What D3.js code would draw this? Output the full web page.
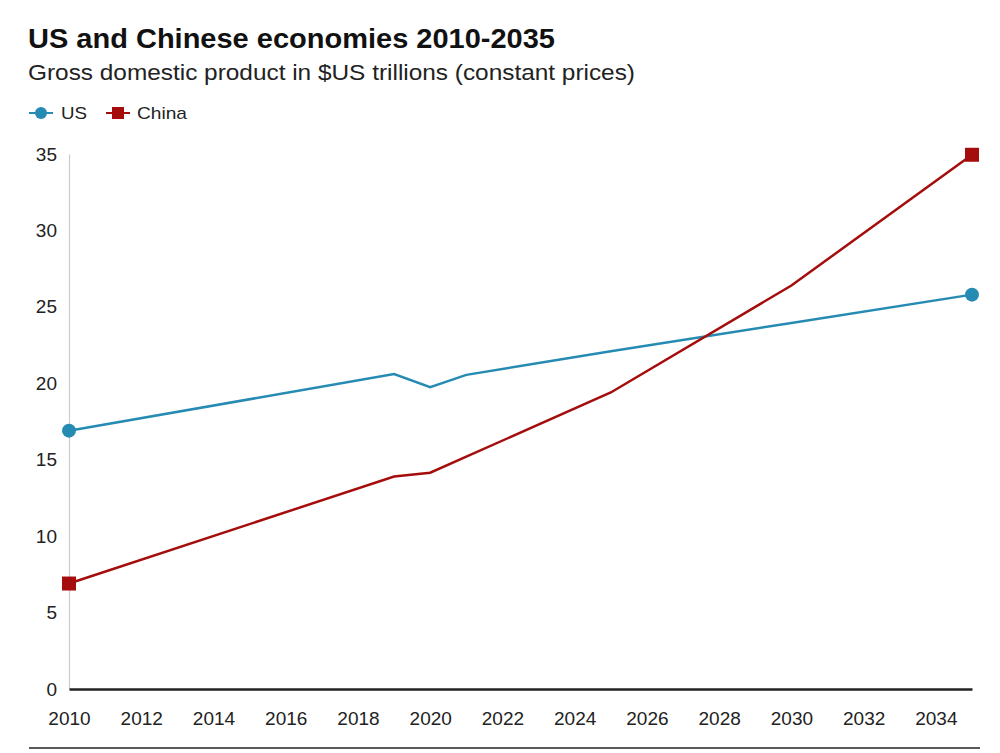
<!DOCTYPE html>
<html><head><meta charset="utf-8">
<script src="https://cdn.jsdelivr.net/npm/d3@7"></script>
<style>body{margin:0;background:#fff;font-family:"Liberation Sans",Arial,sans-serif;}</style>
</head><body>
<svg id="c" width="1000" height="753"></svg>
<script>
const years = [2010, 2019, 2020, 2021, 2025, 2030, 2035];
const usValues = [16.9, 20.6, 19.75, 20.55, 22.1, 23.95, 25.8];
const chinaValues = [6.9, 13.9, 14.15, 15.2, 19.4, 26.4, 34.95];
const yTicks = [0, 5, 10, 15, 20, 25, 30, 35];
const xTicks = [2010, 2012, 2014, 2016, 2018, 2020, 2022, 2024, 2026, 2028, 2030, 2032, 2034];
const seriesNames = ["US", "China"];
const colors = {US: "#268bb3", China: "#a50d0d"};

const svg = d3.select("#c");
const x = d3.scaleLinear().domain([2010, 2035]).range([69, 972]);
const y = d3.scaleLinear().domain([0, 35]).range([689, 154]);

svg.append("text").attr("x", 28).attr("y", 48).attr("font-size", 28).attr("font-weight", "bold").attr("fill", "#111")
  .attr("textLength", 527).attr("lengthAdjust", "spacingAndGlyphs").text("US and Chinese economies 2010-2035");
svg.append("text").attr("x", 28).attr("y", 80).attr("font-size", 22).attr("fill", "#222")
  .attr("textLength", 607).attr("lengthAdjust", "spacingAndGlyphs").text("Gross domestic product in $US trillions (constant prices)");

// legend
const lg = svg.append("g");
lg.append("line").attr("x1", 29).attr("x2", 53).attr("y1", 113).attr("y2", 113).attr("stroke", colors.US).attr("stroke-width", 2);
lg.append("circle").attr("cx", 41).attr("cy", 113).attr("r", 6).attr("fill", colors.US);
lg.append("text").attr("x", 61).attr("y", 119).attr("font-size", 17).attr("fill", "#222")
  .attr("textLength", 26).attr("lengthAdjust", "spacingAndGlyphs").text(seriesNames[0]);
lg.append("line").attr("x1", 106).attr("x2", 130).attr("y1", 113).attr("y2", 113).attr("stroke", colors.China).attr("stroke-width", 2);
lg.append("rect").attr("x", 112).attr("y", 107).attr("width", 12).attr("height", 12).attr("fill", colors.China);
lg.append("text").attr("x", 137).attr("y", 119).attr("font-size", 17).attr("fill", "#222")
  .attr("textLength", 50).attr("lengthAdjust", "spacingAndGlyphs").text(seriesNames[1]);

// y axis
const ya = svg.append("g").attr("transform", "translate(69,0)")
  .call(d3.axisLeft(y).tickValues(yTicks).tickSize(0).tickPadding(12));
ya.select(".domain").attr("stroke", "#ccc").attr("stroke-width", 1.2);
ya.selectAll("text").attr("font-size", 19).attr("fill", "#222").attr("font-family", "Liberation Sans, Arial, sans-serif");

// x axis
const xa = svg.append("g").attr("transform", "translate(0,689)")
  .call(d3.axisBottom(x).tickValues(xTicks).tickFormat(d3.format("d")).tickSize(0).tickPadding(23));
xa.select(".domain").attr("stroke", "#222").attr("stroke-width", 2.5);
xa.selectAll("text").attr("font-size", 19).attr("fill", "#222").attr("font-family", "Liberation Sans, Arial, sans-serif");

const line = d3.line().x((d, i) => x(years[i])).y(d => y(d));
svg.append("path").datum(usValues).attr("d", line).attr("fill", "none").attr("stroke", colors.US).attr("stroke-width", 2.5);
svg.append("path").datum(chinaValues).attr("d", line).attr("fill", "none").attr("stroke", colors.China).attr("stroke-width", 2.5);

const last = years.length - 1;
[0, last].forEach(i => {
  svg.append("circle").attr("cx", x(years[i])).attr("cy", y(usValues[i])).attr("r", 7).attr("fill", colors.US);
  svg.append("rect").attr("x", x(years[i]) - 7).attr("y", y(chinaValues[i]) - 7).attr("width", 14).attr("height", 14).attr("fill", colors.China);
});

svg.append("line").attr("x1", 29).attr("x2", 980).attr("y1", 748).attr("y2", 748).attr("stroke", "#222").attr("stroke-width", 1.5);
</script>
</body></html>
